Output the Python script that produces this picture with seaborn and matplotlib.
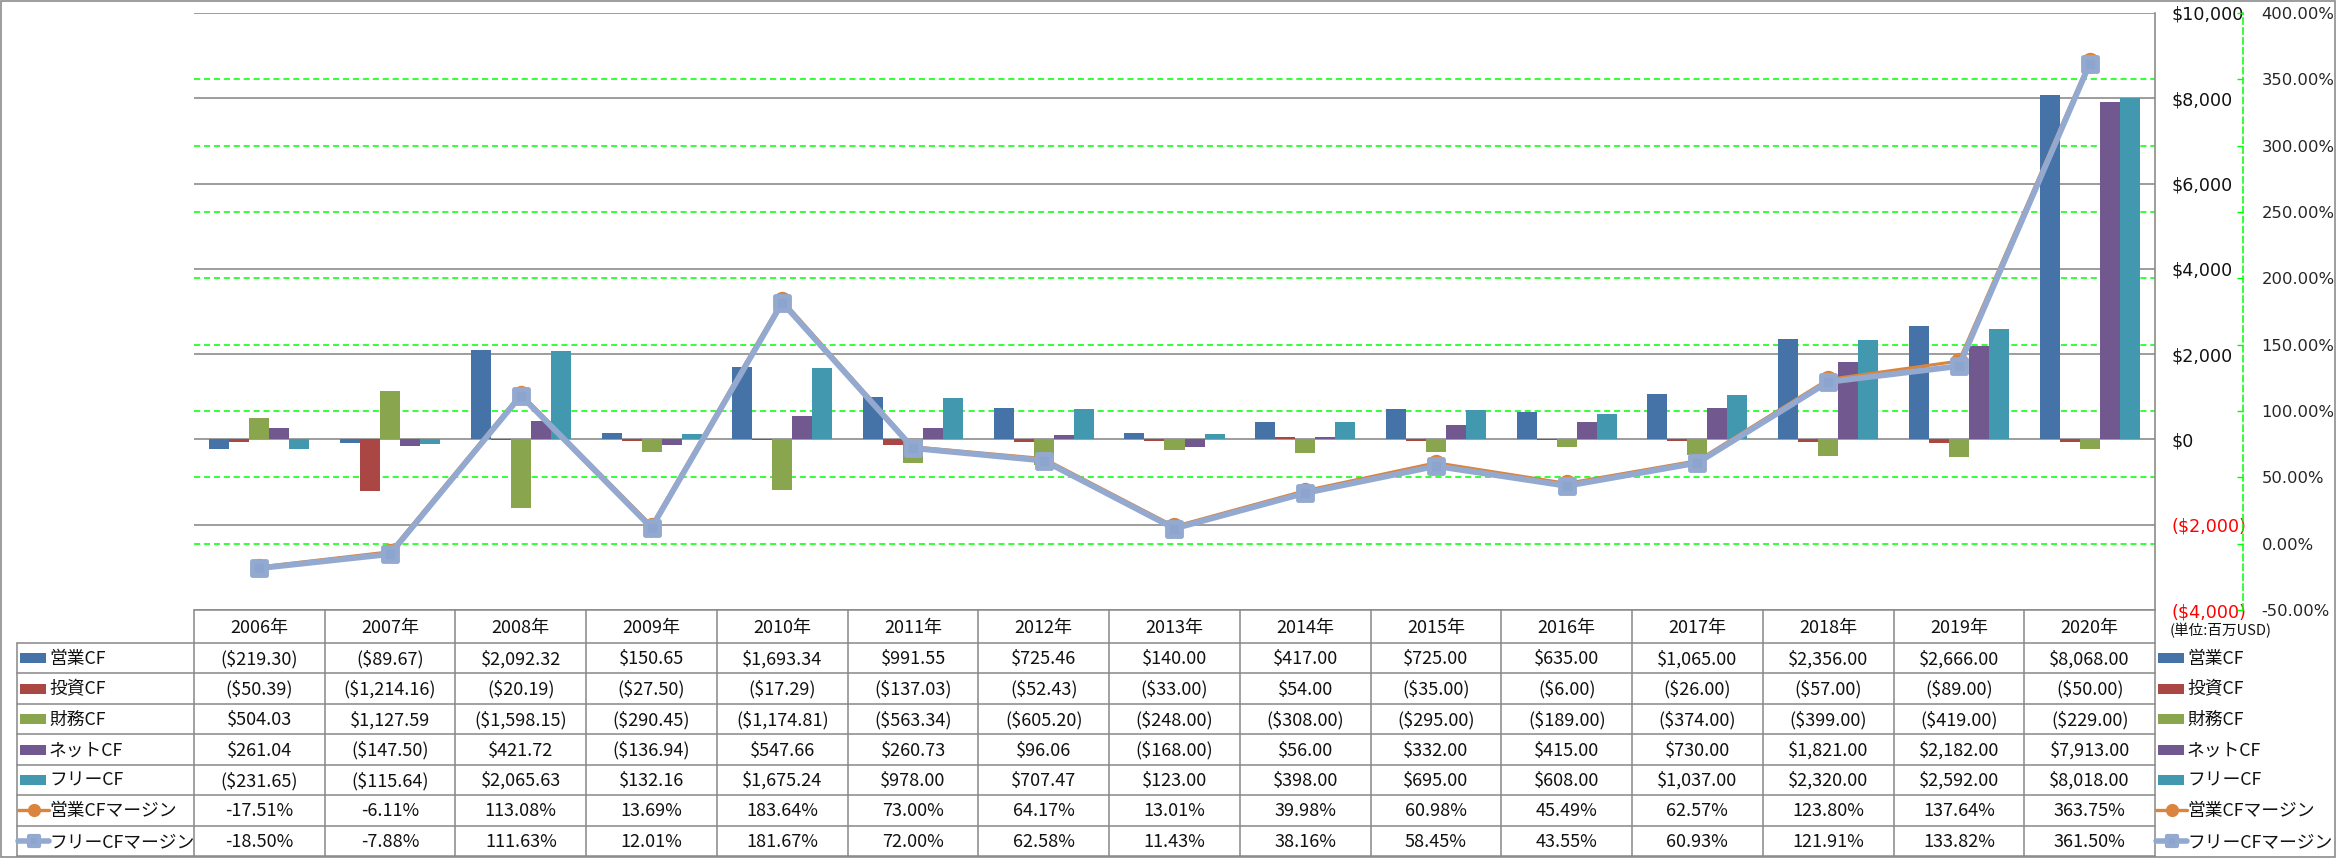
import numpy as np
import pandas as pd
import matplotlib
matplotlib.use("Agg")
import matplotlib.pyplot as plt
import seaborn as sns
from matplotlib import font_manager as fm, transforms
from matplotlib.lines import Line2D
from matplotlib.patches import Rectangle
from matplotlib.markers import MarkerStyle

# ---------------- data ----------------
years = ["2006年", "2007年", "2008年", "2009年", "2010年", "2011年", "2012年", "2013年",
         "2014年", "2015年", "2016年", "2017年", "2018年", "2019年", "2020年"]
bar_names = ["営業CF", "投資CF", "財務CF", "ネットCF", "フリーCF"]
op_cf = [-219.30, -89.67, 2092.32, 150.65, 1693.34, 991.55, 725.46, 140.00, 417.00, 725.00,
         635.00, 1065.00, 2356.00, 2666.00, 8068.00]
inv_cf = [-50.39, -1214.16, -20.19, -27.50, -17.29, -137.03, -52.43, -33.00, 54.00, -35.00,
          -6.00, -26.00, -57.00, -89.00, -50.00]
fin_cf = [504.03, 1127.59, -1598.15, -290.45, -1174.81, -563.34, -605.20, -248.00, -308.00,
          -295.00, -189.00, -374.00, -399.00, -419.00, -229.00]
net_cf = [261.04, -147.50, 421.72, -136.94, 547.66, 260.73, 96.06, -168.00, 56.00, 332.00,
          415.00, 730.00, 1821.00, 2182.00, 7913.00]
free_cf = [-231.65, -115.64, 2065.63, 132.16, 1675.24, 978.00, 707.47, 123.00, 398.00, 695.00,
           608.00, 1037.00, 2320.00, 2592.00, 8018.00]
line_names = ["営業CFマージン", "フリーCFマージン"]
op_margin = [-17.51, -6.11, 113.08, 13.69, 183.64, 73.00, 64.17, 13.01, 39.98, 60.98, 45.49,
             62.57, 123.80, 137.64, 363.75]
free_margin = [-18.50, -7.88, 111.63, 12.01, 181.67, 72.00, 62.58, 11.43, 38.16, 58.45, 43.55,
               60.93, 121.91, 133.82, 361.50]
usd_ticks = [-4000, -2000, 0, 2000, 4000, 6000, 8000, 10000]
pct_ticks = [-50, 0, 50, 100, 150, 200, 250, 300, 350, 400]
unit_label = "(単位:百万USD)"

bar_colors = ["#4572A7", "#AA4643", "#89A54E", "#71588F", "#4198AF"]
line_colors = ["#DB843D", "#93A9CF"]
GRID_GRAY = "#8c8c8c"
GREEN = "#00FF00"
RED = "#FF0000"

bar_series = [op_cf, inv_cf, fin_cf, net_cf, free_cf]
line_series = [op_margin, free_margin]

# ---------------- style ----------------
sns.set_theme(style="white")
names = {f.name for f in fm.fontManager.ttflist}
narrow = "Liberation Sans Narrow" in names
plt.rcParams["font.family"] = ["DejaVu Sans", "Noto Sans CJK JP"]
TAB_FAM = (["Liberation Sans Narrow"] if narrow else []) + ["Noto Sans CJK JP", "DejaVu Sans"]
NUM_SIZE = 15 if narrow else 13
LAB_SIZE = 14.5 if narrow else 12.8
AXIS_FAM = ["DejaVu Sans", "Noto Sans CJK JP"]

W, H = 2336, 858
L, R, T, B = 194, 2155, 13, 610
fig = plt.figure(figsize=(W / 100, H / 100), dpi=100)
fig.patch.set_facecolor("white")

pos = [L / W, 1 - B / H, (R - L) / W, (B - T) / H]

# overlay axes in pixel coordinates for table / frame
tab = fig.add_axes([0, 0, 1, 1], zorder=0)
tab.set_xlim(0, W)
tab.set_ylim(H, 0)
tab.axis("off")

# axes carrying the secondary (green) grid, behind the bars
gax = fig.add_axes(pos, zorder=1)
gax.patch.set_visible(False)
gax.set_ylim(pct_ticks[0], pct_ticks[-1])
gax.set_xlim(0, 1)
for v in pct_ticks[1:-1]:
    gax.axhline(v, color=GREEN, lw=1.1, dashes=(4, 2.5))
gax.set_xticks([])
gax.set_yticks([])
for s in gax.spines.values():
    s.set_visible(False)

# main axes with bars
ax = fig.add_axes(pos, zorder=2)
ax.patch.set_visible(False)
rows = []
for name, vals in zip(bar_names, bar_series):
    for y, v in zip(years, vals):
        rows.append({"year": y, "series": name, "value": v})
df_bar = pd.DataFrame(rows)
sns.barplot(data=df_bar, x="year", y="value", hue="series", order=years,
            hue_order=bar_names, palette=bar_colors, width=0.765, gap=0,
            saturation=1, errorbar=None, legend=False, linewidth=0, ax=ax)
ax.set_ylim(usd_ticks[0], usd_ticks[-1])
ax.yaxis.grid(True, color=GRID_GRAY, lw=1.2)
ax.xaxis.grid(False)
ax.set_axisbelow(True)
for k in ["left", "top", "bottom"]:
    ax.spines[k].set_visible(False)
ax.spines["right"].set_color(GRID_GRAY)
ax.spines["right"].set_linewidth(1.2)
ax.set_xlabel("")
ax.set_ylabel("")

# secondary axes with margin lines
ax2 = ax.twinx()
ax2.set_zorder(3)
ax2.patch.set_visible(False)
sns.pointplot(x=years, y=op_margin, ax=ax2, color=line_colors[0], errorbar=None,
              marker="o", markersize=12.5, linewidth=2.2, markeredgewidth=0)
l_op = ax2.lines[-1]
l_op.set_marker("o")
l_op.set_markersize(12.5)
l_op.set_markerfacecolor(line_colors[0])
l_op.set_markeredgewidth(0)
l_op.set_linewidth(2.2)
sns.pointplot(x=years, y=free_margin, ax=ax2, color=line_colors[1], errorbar=None,
              markersize=10, linewidth=4.2)
l_fr = ax2.lines[-1]
l_fr.set_marker(MarkerStyle("s", joinstyle="round"))
l_fr.set_markersize(10)
l_fr.set_markerfacecolor("#8CA5CF")
l_fr.set_markeredgecolor(line_colors[1])
l_fr.set_markeredgewidth(3.5)
l_fr.set_linewidth(4.2)
l_fr.set_solid_joinstyle("round")

ax2.set_ylim(pct_ticks[0], pct_ticks[-1])
ax2.set_yticks(pct_ticks, labels=[f"{v:.2f}%" for v in pct_ticks])
for lbl, v in zip(ax2.get_yticklabels(), pct_ticks):
    lbl.set_color(RED if v < 0 else "#111111")
    lbl.set_family(AXIS_FAM)
ax2.tick_params(axis="y", direction="in", length=4, color=GREEN, width=1, pad=13.5,
                labelsize=11.8)
ax2.grid(False)
for k in ["left", "top", "bottom"]:
    ax2.spines[k].set_visible(False)
ax2.spines["right"].set_position(("outward", 88 * 72 / 100))
ax2.spines["right"].set_color(GREEN)
ax2.spines["right"].set_linewidth(1.1)
ax2.spines["right"].set_linestyle((0, (4, 2.5)))
ax2.set_xlabel("")
ax2.set_ylabel("")

# primary $ labels on the right (after twinx, which resets them to the left)


def usd_fmt(v):
    return f"(${abs(v):,})" if v < 0 else f"${v:,}"


ax.yaxis.tick_right()
ax.yaxis.set_label_position("right")
ax.set_yticks(usd_ticks, labels=[usd_fmt(v) for v in usd_ticks])
for lbl, v in zip(ax.get_yticklabels(which="both"), usd_ticks):
    lbl.set_color(RED if v < 0 else "#111111")
    lbl.set_family(AXIS_FAM)
ax.tick_params(axis="y", left=False, labelleft=False, right=True, labelright=True,
               length=0, pad=12, labelsize=12.6)

ax.set_xlim(-0.5, len(years) - 0.5)
ax.set_xticks([])
ax.tick_params(axis="x", bottom=False, labelbottom=False)

# ---------------- data table ----------------
blend = transforms.blended_transform_factory(ax.transData, tab.transData)
head_top, head_bot, table_bot = B, 643, 856
n_rows = len(bar_names) + len(line_names)
rh = (table_bot - head_bot) / n_rows
row_c = [head_bot + (k + 0.5) * rh for k in range(n_rows)]
TC = "#888888"

for i in range(len(years) + 1):
    tab.add_line(Line2D([i - 0.5, i - 0.5], [head_top, table_bot], color=TC, lw=1.1,
                        transform=blend))
tab.add_line(Line2D([L, R], [head_top, head_top], color=TC, lw=1.1))
for k in range(n_rows + 1):
    y = head_bot + k * rh
    tab.add_line(Line2D([17, R], [y, y], color=TC, lw=1.1))
tab.add_line(Line2D([17, 17], [head_bot, table_bot], color=TC, lw=1.1))

for i, yname in enumerate(years):
    tab.text(i, (head_top + head_bot) / 2 + 1, yname, transform=blend, ha="center",
             va="center", fontsize=NUM_SIZE, family=TAB_FAM, color="#111111")


def money(v):
    s = f"${abs(v):,.2f}"
    return f"({s})" if v < 0 else s


for r, vals in enumerate(bar_series):
    for i, v in enumerate(vals):
        tab.text(i, row_c[r] + 1, money(v), transform=blend, ha="center", va="center",
                 fontsize=NUM_SIZE, family=TAB_FAM, color="#111111")
for r2, vals in enumerate(line_series):
    r = len(bar_series) + r2
    for i, v in enumerate(vals):
        tab.text(i, row_c[r] + 1, f"{v:.2f}%", transform=blend, ha="center", va="center",
                 fontsize=NUM_SIZE, family=TAB_FAM, color="#111111")


def legend_key(x0, r, kind):
    yc = row_c[r]
    if kind < len(bar_names):
        tab.add_patch(Rectangle((x0 + 2, yc - 5), 26, 10, color=bar_colors[kind], lw=0))
    elif kind == len(bar_names):
        tab.add_line(Line2D([x0, x0 + 31], [yc, yc], color=line_colors[0], lw=2.4))
        tab.add_line(Line2D([x0 + 15.5], [yc], color=line_colors[0], marker="o",
                            markersize=9.5, markeredgewidth=0))
    else:
        tab.add_line(Line2D([x0, x0 + 31], [yc, yc], color=line_colors[1], lw=4))
        tab.add_line(Line2D([x0 + 15.5], [yc], marker=MarkerStyle("s", joinstyle="round"),
                            markersize=7.5, markerfacecolor="#8CA5CF",
                            markeredgecolor=line_colors[1], markeredgewidth=3))


all_names = bar_names + line_names
for r, nm in enumerate(all_names):
    legend_key(18, r, r)
    tab.text(49, row_c[r] + 1, nm, ha="left", va="center", fontsize=LAB_SIZE,
             family=TAB_FAM, color="#111111")
    legend_key(2156, r, r)
    tab.text(2187, row_c[r] + 1, nm, ha="left", va="center", fontsize=LAB_SIZE,
             family=TAB_FAM, color="#111111")

tab.text(2170, 631, unit_label, ha="left", va="center", fontsize=10.5,
         family=["Noto Sans CJK JP", "DejaVu Sans"], color="#111111")

tab.add_patch(Rectangle((0.75, 0.75), W - 1.5, H - 1.5, fill=False, ec=GRID_GRAY, lw=1.2))

fig.savefig("out.png", dpi=100, facecolor="white")
